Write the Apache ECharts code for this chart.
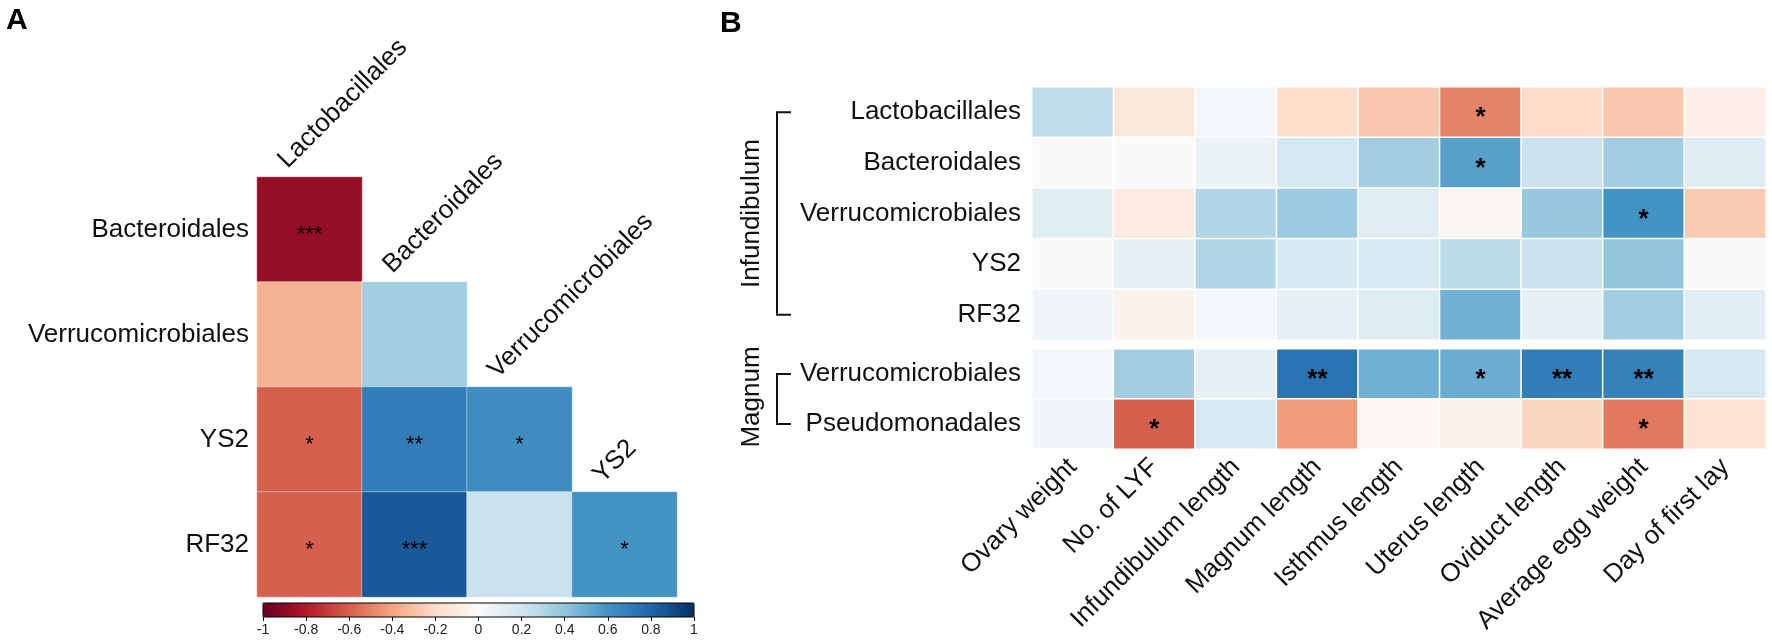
<!DOCTYPE html>
<html>
<head>
<meta charset="utf-8">
<script src="https://cdn.jsdelivr.net/npm/echarts@6/dist/echarts.min.js"></script>
<style>
  html, body { margin: 0; padding: 0; background: #fff; }
  #main { width: 1772px; height: 643px; }
</style>
</head>
<body>
<div id="main"></div>
<script>
// ---------------- panel A : correlation between orders ----------------
var colsA = ['Lactobacillales', 'Bacteroidales', 'Verrucomicrobiales', 'YS2'];
var rowsA = ['Bacteroidales', 'Verrucomicrobiales', 'YS2', 'RF32'];
var corrA = [
    [-0.88],
    [-0.35, 0.35],
    [-0.6, 0.7, 0.62],
    [-0.6, 0.85, 0.22, 0.6]
];
var starsA = [
    ['***'],
    ['', ''],
    ['*', '**', '*'],
    ['*', '***', '', '*']
];

// ---------------- panel B : orders vs. traits ----------------
var traitsB = ['Ovary weight', 'No. of LYF', 'Infundibulum length', 'Magnum length', 'Isthmus length',
    'Uterus length', 'Oviduct length', 'Average egg weight', 'Day of first lay'];
var infRows = ['Lactobacillales', 'Bacteroidales', 'Verrucomicrobiales', 'YS2', 'RF32'];
var infVals = [
    [0.25, -0.12, 0.03, -0.18, -0.27, -0.5, -0.2, -0.27, -0.07],
    [0.0, 0.0, 0.08, 0.18, 0.35, 0.55, 0.22, 0.35, 0.13],
    [0.12, -0.1, 0.3, 0.37, 0.12, -0.03, 0.38, 0.6, -0.26],
    [0.0, 0.1, 0.3, 0.17, 0.16, 0.27, 0.22, 0.4, -0.01],
    [0.06, -0.05, 0.03, 0.1, 0.14, 0.48, 0.1, 0.35, 0.12]
];
var infStars = [
    ['', '', '', '', '', '*', '', '', ''],
    ['', '', '', '', '', '*', '', '', ''],
    ['', '', '', '', '', '', '', '*', ''],
    ['', '', '', '', '', '', '', '', ''],
    ['', '', '', '', '', '', '', '', '']
];
var magRows = ['Verrucomicrobiales', 'Pseudomonadales'];
var magVals = [
    [0.03, 0.35, 0.1, 0.74, 0.48, 0.5, 0.7, 0.68, 0.17],
    [0.04, -0.6, 0.16, -0.43, -0.02, -0.05, -0.22, -0.53, -0.15]
];
var magStars = [
    ['', '', '', '**', '', '*', '**', '**', ''],
    ['', '*', '', '', '', '', '', '*', '']
];

// colour scale (RdBu)
var rdbu = ['#67001f', '#b2182b', '#d6604d', '#f4a582', '#fddbc7', '#fafafa',
    '#d1e5f0', '#92c5de', '#4393c3', '#2166ac', '#053061'];

var FONT = 'Liberation Sans, Arial, Helvetica, sans-serif';

function toCells(vals) {
    var out = [];
    vals.forEach(function (row, y) {
        row.forEach(function (v, x) {
            out.push([x, y, v]);
        });
    });
    return out;
}
function starLabel(stars, size, weight) {
    return {
        show: true,
        formatter: function (p) { return stars[p.data[1]][p.data[0]]; },
        color: '#000',
        fontSize: size,
        fontWeight: weight,
        fontFamily: FONT,
        offset: [0, Math.round(size * 0.22)]
    };
}
function hideAxis(o) {
    o.axisLine = { show: false };
    o.axisTick = { show: false };
    o.splitLine = { show: false };
    return o;
}

var myChart = echarts.init(document.getElementById('main'), null, { renderer: 'canvas' });

var option = {
    animation: false,
    backgroundColor: '#fff',
    grid: [
        { left: 257, top: 177, width: 420, height: 420 },
        { left: 1032, top: 87, width: 734, height: 253 },
        { left: 1032, top: 349, width: 734, height: 100 },
        { left: 263, top: 603, width: 431, height: 14, show: true, borderColor: '#000', borderWidth: 1, z: 10 }
    ],
    xAxis: [
        hideAxis({ type: 'category', gridIndex: 0, data: colsA, axisLabel: { show: false } }),
        hideAxis({ type: 'category', gridIndex: 1, data: traitsB, axisLabel: { show: false } }),
        hideAxis({
            type: 'category', gridIndex: 2, data: traitsB,
            axisLabel: { rotate: 45, margin: 14, fontSize: 26, color: '#111', fontFamily: FONT }
        }),
        {
            type: 'value', gridIndex: 3, min: -1, max: 1, interval: 0.2,
            axisLine: { show: false },
            splitLine: { show: false },
            axisTick: { show: true, inside: false, length: 4, lineStyle: { color: '#000' } },
            axisLabel: { fontSize: 14, color: '#222', margin: 6, fontFamily: FONT }
        }
    ],
    yAxis: [
        hideAxis({
            type: 'category', gridIndex: 0, data: rowsA, inverse: true,
            axisLabel: { fontSize: 26, color: '#111', margin: 8, fontFamily: FONT }
        }),
        hideAxis({
            type: 'category', gridIndex: 1, data: infRows, inverse: true,
            axisLabel: { fontSize: 26, color: '#111', margin: 11, fontFamily: FONT }
        }),
        hideAxis({
            type: 'category', gridIndex: 2, data: magRows, inverse: true,
            axisLabel: { fontSize: 26, color: '#111', margin: 11, fontFamily: FONT }
        }),
        { type: 'value', gridIndex: 3, show: false, min: 0, max: 1 }
    ],
    visualMap: {
        type: 'continuous',
        min: -1,
        max: 1,
        orient: 'horizontal',
        left: 263,
        top: 603,
        padding: 0,
        itemWidth: 14,
        itemHeight: 431,
        calculable: false,
        hoverLink: false,
        seriesIndex: [0, 1, 2],
        inRange: { color: rdbu },
        textStyle: { fontSize: 0 }
    },
    series: [
        {
            type: 'heatmap', xAxisIndex: 0, yAxisIndex: 0,
            data: toCells(corrA),
            itemStyle: { borderColor: '#fff', borderWidth: 0.4 },
            label: starLabel(starsA, 22, 'normal'),
            emphasis: { disabled: true }
        },
        {
            type: 'heatmap', xAxisIndex: 1, yAxisIndex: 1,
            data: toCells(infVals),
            itemStyle: { borderColor: '#fff', borderWidth: 1.5 },
            label: starLabel(infStars, 26, 'bold'),
            emphasis: { disabled: true }
        },
        {
            type: 'heatmap', xAxisIndex: 2, yAxisIndex: 2,
            data: toCells(magVals),
            itemStyle: { borderColor: '#fff', borderWidth: 1.5 },
            label: starLabel(magStars, 26, 'bold'),
            emphasis: { disabled: true }
        },
        {
            // column names of the triangle, placed on top of each column's first cell
            type: 'custom', xAxisIndex: 0, yAxisIndex: 0, clip: false,
            data: colsA.map(function (c, i) { return [i, i]; }),
            renderItem: function (params, api) {
                var p = api.coord([api.value(0), api.value(1)]);
                var s = api.size([1, 1]);
                return {
                    type: 'text',
                    x: p[0] - 27,
                    y: p[1] - s[1] / 2 - 13,
                    rotation: Math.PI / 4,
                    style: {
                        text: colsA[api.value(0)],
                        fontSize: 26,
                        fontFamily: FONT,
                        fill: '#111',
                        align: 'left',
                        verticalAlign: 'middle'
                    }
                };
            }
        }
    ]
};
myChart.setOption(option);

//--------------------分组括号-------------------
function bracket(yAxisIndex, rows, name) {
    var y1 = myChart.convertToPixel({ yAxisIndex: yAxisIndex }, rows[0]);
    var y2 = myChart.convertToPixel({ yAxisIndex: yAxisIndex }, rows[rows.length - 1]);
    var xl = 777, xr = 791;
    return [
        {
            type: 'polyline',
            shape: { points: [[xr, y1], [xl, y1], [xl, y2], [xr, y2]] },
            style: { stroke: '#111', lineWidth: 2, fill: null }
        },
        {
            type: 'text',
            x: 752,
            y: (y1 + y2) / 2,
            rotation: Math.PI / 2,
            style: {
                text: name, fontSize: 26, fontFamily: FONT, fill: '#111',
                align: 'center', verticalAlign: 'middle'
            }
        }
    ];
}
var magGroup = bracket(2, magRows, 'Magnum');
// Magnum label is centred on the whole magnum block
magGroup[1].y = (myChart.convertToPixel({ yAxisIndex: 2 }, magRows[0]) +
    myChart.convertToPixel({ yAxisIndex: 2 }, magRows[1])) / 2 - 2;

myChart.setOption({
    graphic: [
        { type: 'text', left: 6, top: 6, style: { text: 'A', fontSize: 30, fontWeight: 'bold', fontFamily: FONT, fill: '#000' } },
        { type: 'text', left: 720, top: 9, style: { text: 'B', fontSize: 30, fontWeight: 'bold', fontFamily: FONT, fill: '#000' } }
    ].concat(bracket(1, infRows, 'Infundibulum')).concat(magGroup)
});
</script>
</body>
</html>
